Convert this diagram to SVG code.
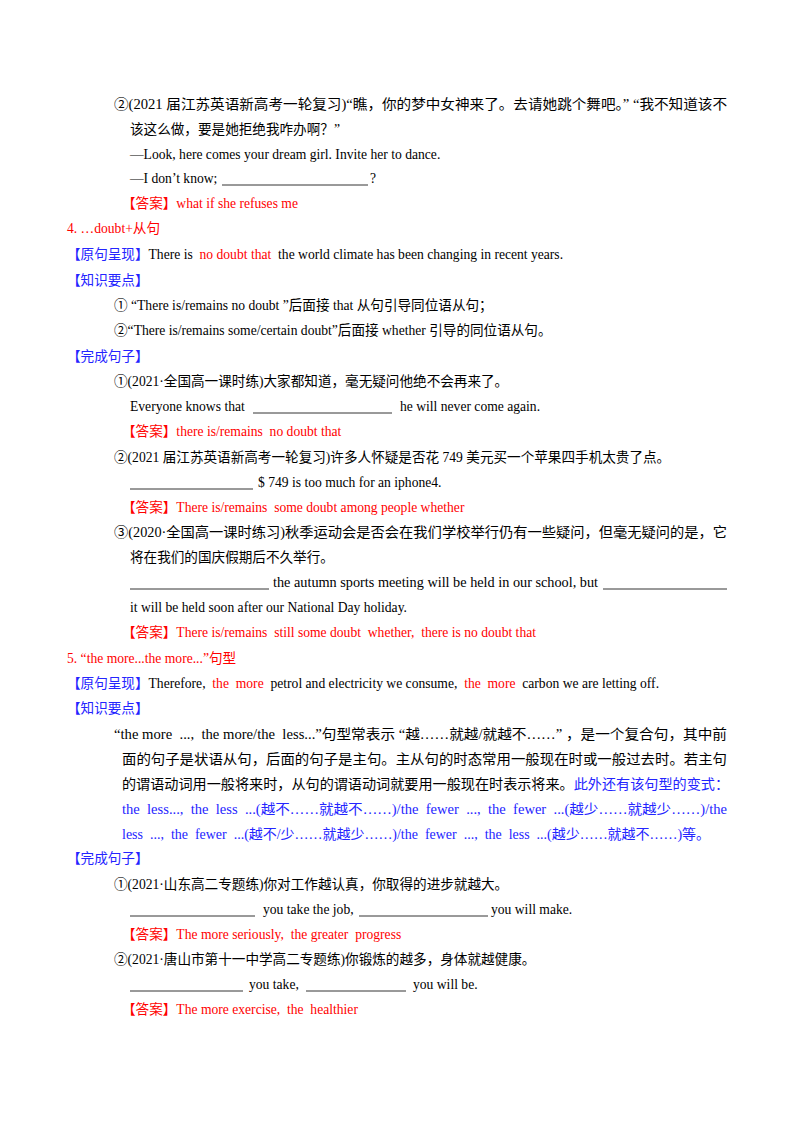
<svg xmlns="http://www.w3.org/2000/svg" width="800" height="1132" viewBox="0 0 800 1132" xml:space="preserve">
<style>
text{font-family:"Liberation Serif","Noto Sans CJK SC",serif;font-size:13.6px;fill:#000;white-space:pre}
.r{fill:#ff0000}.b{fill:#2424ff}
line{stroke:#000;stroke-width:0.8}
</style>
<rect width="800" height="1132" fill="#fff"/>
<text x="114" y="109" textLength="613" lengthAdjust="spacingAndGlyphs">②(2021 届江苏英语新高考一轮复习)“瞧，你的梦中女神来了。去请她跳个舞吧。” “我不知道该不</text>
<text x="130" y="134">该这么做，要是她拒绝我咋办啊？”</text>
<text x="130" y="159">—Look, here comes your dream girl. Invite her to dance.</text>
<text x="130" y="183">—I don’t know;</text><line x1="222" y1="185" x2="368" y2="185"/><text x="370" y="183">?</text>
<text x="122" y="208" class="r">【答案】what if she refuses me</text>
<text x="67" y="233" class="r">4. …doubt+从句</text>
<text x="67" y="259"><tspan class="b">【原句呈现】</tspan>There is  <tspan class="r">no doubt that</tspan>  the world climate has been changing in recent years.</text>
<text x="67" y="285" class="b">【知识要点】</text>
<text x="114" y="310">① “There is/remains no doubt ”后面接 that 从句引导同位语从句；</text>
<text x="114" y="335">②“There is/remains some/certain doubt”后面接 whether 引导的同位语从句。</text>
<text x="67" y="361" class="b">【完成句子】</text>
<text x="114" y="386">①(2021·全国高一课时练)大家都知道，毫无疑问他绝不会再来了。</text>
<text x="130" y="411">Everyone knows that</text><line x1="253" y1="413" x2="392" y2="413"/><text x="400" y="411">he will never come again.</text>
<text x="122" y="436" class="r">【答案】there is/remains  no doubt that</text>
<text x="114" y="462">②(2021 届江苏英语新高考一轮复习)许多人怀疑是否花 749 美元买一个苹果四手机太贵了点。</text>
<line x1="130" y1="489" x2="253" y2="489"/><text x="258" y="487">$ 749 is too much for an iphone4.</text>
<text x="122" y="512" class="r">【答案】There is/remains  some doubt among people whether</text>
<text x="114" y="537" textLength="613" lengthAdjust="spacingAndGlyphs">③(2020·全国高一课时练习)秋季运动会是否会在我们学校举行仍有一些疑问，但毫无疑问的是，它</text>
<text x="130" y="562">将在我们的国庆假期后不久举行。</text>
<line x1="130" y1="589" x2="269" y2="589"/><text x="273" y="587" textLength="325" lengthAdjust="spacingAndGlyphs">the autumn sports meeting will be held in our school, but</text><line x1="603" y1="589" x2="727" y2="589"/>
<text x="130" y="612">it will be held soon after our National Day holiday.</text>
<text x="122" y="637" class="r">【答案】There is/remains  still some doubt  whether,  there is no doubt that</text>
<text x="67" y="663" class="r">5. “the more...the more...”句型</text>
<text x="67" y="688"><tspan class="b">【原句呈现】</tspan>Therefore,  <tspan class="r">the  more</tspan>  petrol and electricity we consume,  <tspan class="r">the  more</tspan>  carbon we are letting off.</text>
<text x="67" y="713" class="b">【知识要点】</text>
<text x="114" y="739" textLength="613" lengthAdjust="spacingAndGlyphs">“the more  ...,  the more/the  less...”句型常表示 “越……就越/就越不……” ，是一个复合句，其中前</text>
<text x="122" y="764" textLength="605" lengthAdjust="spacingAndGlyphs">面的句子是状语从句，后面的句子是主句。主从句的时态常用一般现在时或一般过去时。若主句</text>
<text x="122" y="789" textLength="607" lengthAdjust="spacingAndGlyphs">的谓语动词用一般将来时，从句的谓语动词就要用一般现在时表示将来。<tspan class="b">此外还有该句型的变式：</tspan></text>
<text x="122" y="814" class="b" textLength="605" lengthAdjust="spacingAndGlyphs">the  less...,  the  less  ...(越不……就越不……)/the  fewer  ...,  the  fewer  ...(越少……就越少……)/the</text>
<text x="122" y="839" class="b" textLength="588" lengthAdjust="spacingAndGlyphs">less  ...,  the  fewer  ...(越不/少……就越少……)/the  fewer  ...,  the  less  ...(越少……就越不……)等。</text>
<text x="67" y="863" class="b">【完成句子】</text>
<text x="114" y="889">①(2021·山东高二专题练)你对工作越认真，你取得的进步就越大。</text>
<line x1="130" y1="916" x2="255" y2="916"/><text x="263" y="914">you take the job,</text><line x1="359" y1="916" x2="488" y2="916"/><text x="491" y="914">you will make.</text>
<text x="122" y="939" class="r">【答案】The more seriously,  the greater  progress</text>
<text x="114" y="964">②(2021·唐山市第十一中学高二专题练)你锻炼的越多，身体就越健康。</text>
<line x1="130" y1="991" x2="243" y2="991"/><text x="249" y="989">you take,</text><line x1="306" y1="991" x2="406" y2="991"/><text x="413" y="989">you will be.</text>
<text x="122" y="1014" class="r">【答案】The more exercise,  the  healthier</text>
</svg>
